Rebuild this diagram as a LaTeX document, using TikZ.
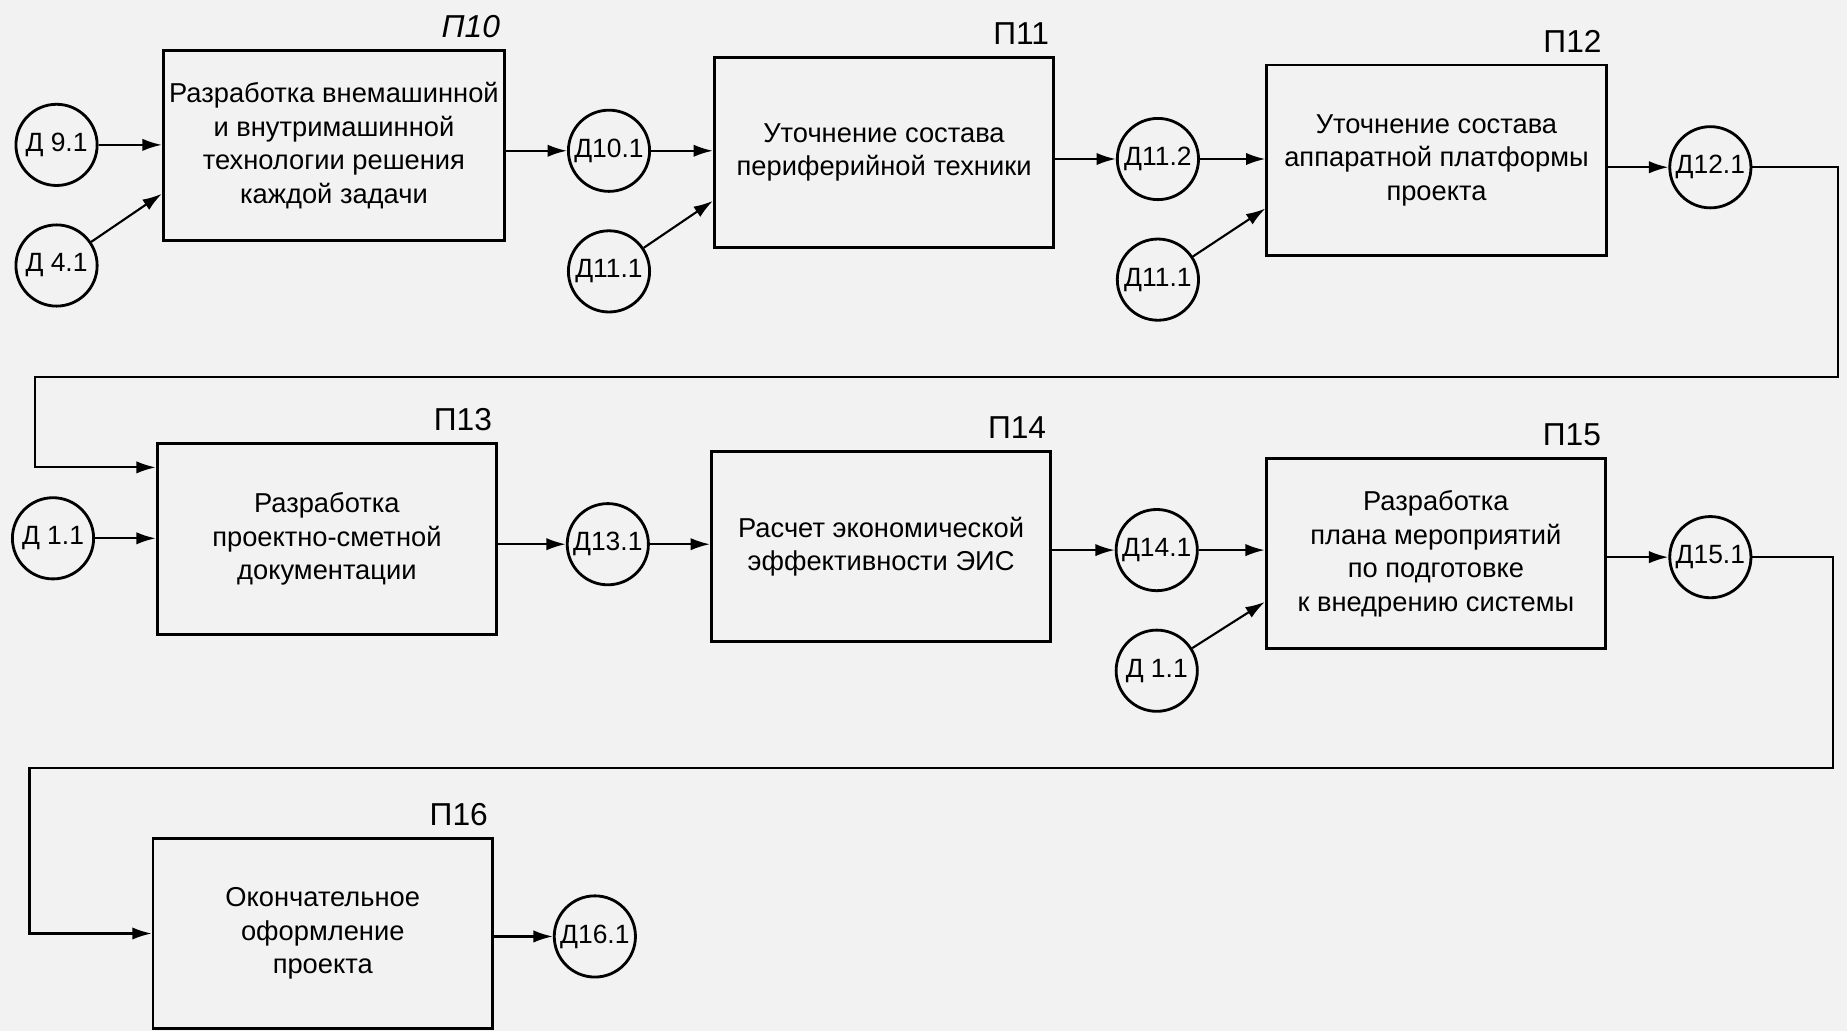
\documentclass[tikz,border=0pt]{standalone}
\usepackage{fontspec}
\setmainfont{Liberation Sans}
\usetikzlibrary{shapes,arrows.meta,positioning,calc}

\begin{document}
\begin{tikzpicture}[x=0.0235cm, y=-0.0235cm, line width=1.2pt,
    proc/.style={draw, rectangle, line width=1.6pt, minimum width=6.77cm, minimum height=3.8cm, align=center, font=\fontsize{15.5}{19}\selectfont},
    data/.style={draw, circle, line width=1.6pt, minimum size=1.62cm, inner sep=0pt, font=\fontsize{15}{17}\selectfont},
    tag/.style={inner sep=0pt, font=\fontsize{18}{20}\selectfont},
    >={Latex[length=11pt,width=7pt]}]
    \fill[black!5] (0,0) rectangle (1568,875);
    \useasboundingbox (0,0) rectangle (1568,875);

    % first row
    \node (p10) [proc] at (283.5,123.5) {Разработка внемашинной\\и внутримашинной\\технологии решения\\каждой задачи};
    \node (t10) [tag, above left=0.2cm and 0.1cm of p10.north east] {\itshape П10};
    \node (d91) [data] at (48,123) {Д 9.1};
    \node (d41) [data, below=0.73cm of d91] {Д 4.1};
    \node (d101) [data] at (517,128) {Д10.1};
    \node (d111a) [data, below=0.73cm of d101] {Д11.1};

    \node (p11) [proc] at (750.5,129.5) {Уточнение состава\\периферийной техники};
    \node (t11) [tag, above left=0.2cm and 0.1cm of p11.north east] {П11};
    \node (d112) [data] at (983,135) {Д11.2};
    \node (d111b) [data, below=0.73cm of d112] {Д11.1};

    \node (p12) [proc] at (1219.5,136) {Уточнение состава\\аппаратной платформы\\проекта};
    \node (t12) [tag, above left=0.2cm and 0.1cm of p12.north east] {П12};
    \node (d121) [data] at (1452,142) {Д12.1};

    % second row
    \node (p13) [proc] at (277.5,457.5) {Разработка\\проектно-сметной\\документации};
    \node (t13) [tag, above left=0.2cm and 0.1cm of p13.north east] {П13};
    \node (d11a) [data] at (45,457) {Д 1.1};
    \node (d131) [data] at (516,462) {Д13.1};

    \node (p14) [proc] at (748,464) {Расчет экономической\\эффективности ЭИС};
    \node (t14) [tag, above left=0.2cm and 0.1cm of p14.north east] {П14};
    \node (d141) [data] at (982,467) {Д14.1};
    \node (d11b) [data, below=0.73cm of d141] {Д 1.1};

    \node (p15) [proc] at (1219,470) {Разработка\\плана мероприятий\\по подготовке\\к внедрению системы};
    \node (t15) [tag, above left=0.2cm and 0.1cm of p15.north east] {П15};
    \node (d151) [data] at (1452,473) {Д15.1};

    % third row
    \node (p16) [proc] at (274,792.5) {Окончательное\\оформление\\проекта};
    \node (t16) [tag, above left=0.2cm and 0.1cm of p16.north east] {П16};
    \node (d161) [data] at (505,795) {Д16.1};

    % lower inputs and returns
    \coordinate (p10in) at ($(p10.west)!0.5!(p10.south west)$);
    \coordinate (p11in) at ($(p11.west)!0.5!(p11.south west)$);
    \coordinate (p12in) at ($(p12.west)!0.5!(p12.south west)$);
    \coordinate (p15in) at ($(p15.west)!0.5!(p15.south west)$);
    \coordinate (p13in) at ($(p13.north west)!0.13!(p13.south west)$);
    \coordinate (r1) at (1560,320);
    \coordinate (l1) at (30,320);
    \coordinate (r2) at (1556,652);
    \coordinate (l2) at (25,652);

    \draw[->] (d91) -- (d91 -| p10.west);
    \draw[->] (d41) -- (p10in);
    \draw[->] (p10.east |- d101) -- (d101);
    \draw[->] (d101) -- (d101 -| p11.west);
    \draw[->] (d111a) -- (p11in);
    \draw[->] (p11.east |- d112) -- (d112);
    \draw[->] (d112) -- (d112 -| p12.west);
    \draw[->] (d111b) -- (p12in);
    \draw[->] (p12.east |- d121) -- (d121);
    \draw[->] (d121) -- (d121 -| r1) -- (r1) -- (l1) |- (p13in);

    \draw[->] (d11a) -- (d11a -| p13.west);
    \draw[->] (p13.east |- d131) -- (d131);
    \draw[->] (d131) -- (d131 -| p14.west);
    \draw[->] (p14.east |- d141) -- (d141);
    \draw[->] (d141) -- (d141 -| p15.west);
    \draw[->] (d11b) -- (p15in);
    \draw[->] (p15.east |- d151) -- (d151);
    \draw[->] (d151) -- (d151 -| r2) -- (r2) -- (l2) |- (p16);

    \draw[->] (p16.east |- d161) -- (d161);
\end{tikzpicture}
\end{document}
